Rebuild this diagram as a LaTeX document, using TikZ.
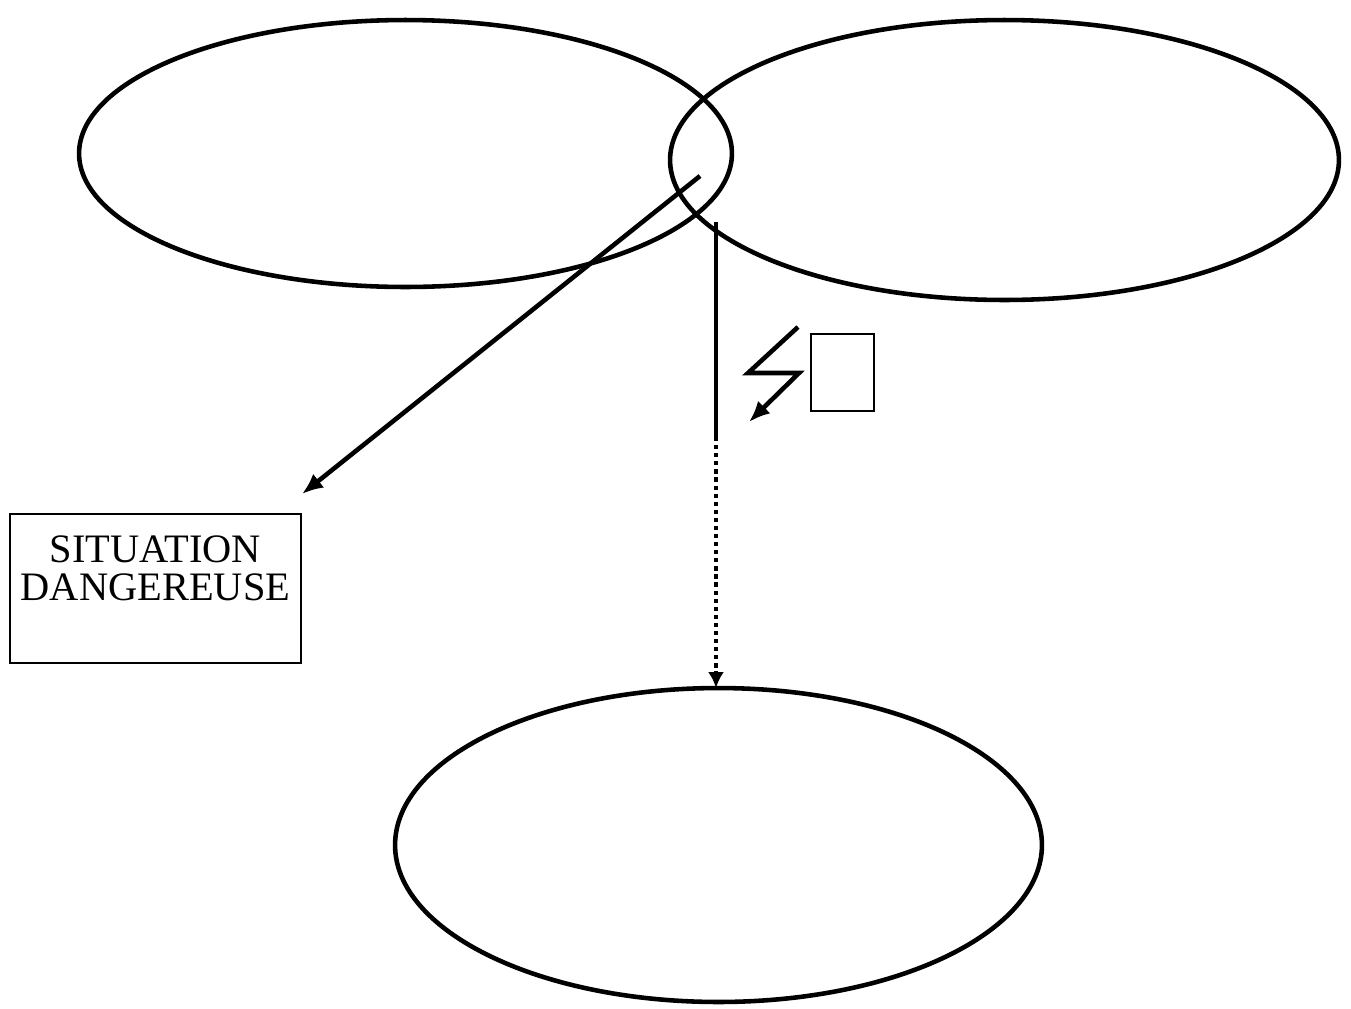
\documentclass[tikz,border=0pt]{standalone}
\usepackage{fontspec}
\setmainfont{Liberation Serif}
\usetikzlibrary{arrows.meta,shapes.geometric}
\begin{document}
\begin{tikzpicture}[x=0.02cm,y=-0.02cm,
  thickline/.style={line width=2.6pt},
  oval/.style={draw,thickline,ellipse,inner sep=0pt,outer sep=0pt},
  tip/.style={-{Latex[length=12pt,width=10pt]}},
  frame/.style={draw,line width=1.1pt,inner sep=0pt,outer sep=0pt}]
\useasboundingbox (0,0) rectangle (1351,1008);
% the three ovals
\node[oval,minimum width=13.06cm,minimum height=5.34cm] (left) at (405.5,153.5) {};
\node[oval,minimum width=13.38cm,minimum height=5.60cm] (right) at (1004.5,160) {};
\node[oval,minimum width=12.94cm,minimum height=6.28cm] (bottom) at (718.5,845) {};
% labelled box
\node[frame,minimum width=5.82cm,minimum height=2.98cm] (danger) at (155.5,588.5) {};
\node[anchor=north,inner sep=0pt,align=center,font=\fontsize{23}{21.6}\selectfont]
  (dangertext) at (155.5,535) {SITUATION\\DANGEREUSE};
% arrow from the overlap to the box
\coordinate (a0) at (700,176);
\coordinate (a1) at (302,494);
\draw[thickline,tip] (a0) -- (a1);
% vertical link: solid, then dotted down to the lower oval
\coordinate (v0) at (716,222);
\coordinate (v1) at (716,437);
\coordinate (v2) at (bottom.north -| v0);
\draw[line width=2.2pt] (v0) -- (v1);
\draw[line width=2.2pt,dash pattern=on 2.4pt off 2.2pt,
  -{Latex[length=9pt,width=9pt]}] (v1) -- (v2);
% lightning sign
\coordinate (l0) at (798,327);
\coordinate (l1) at (748,373);
\coordinate (l2) at (799,373);
\coordinate (l3) at (749,422);
\draw[thickline,tip] (l0) -- (l1) -- (l2) -- (l3);
% small empty square
\node[frame,line width=0.9pt,minimum width=1.26cm,minimum height=1.54cm] (sq) at (842.5,372.5) {};
\end{tikzpicture}
\end{document}
